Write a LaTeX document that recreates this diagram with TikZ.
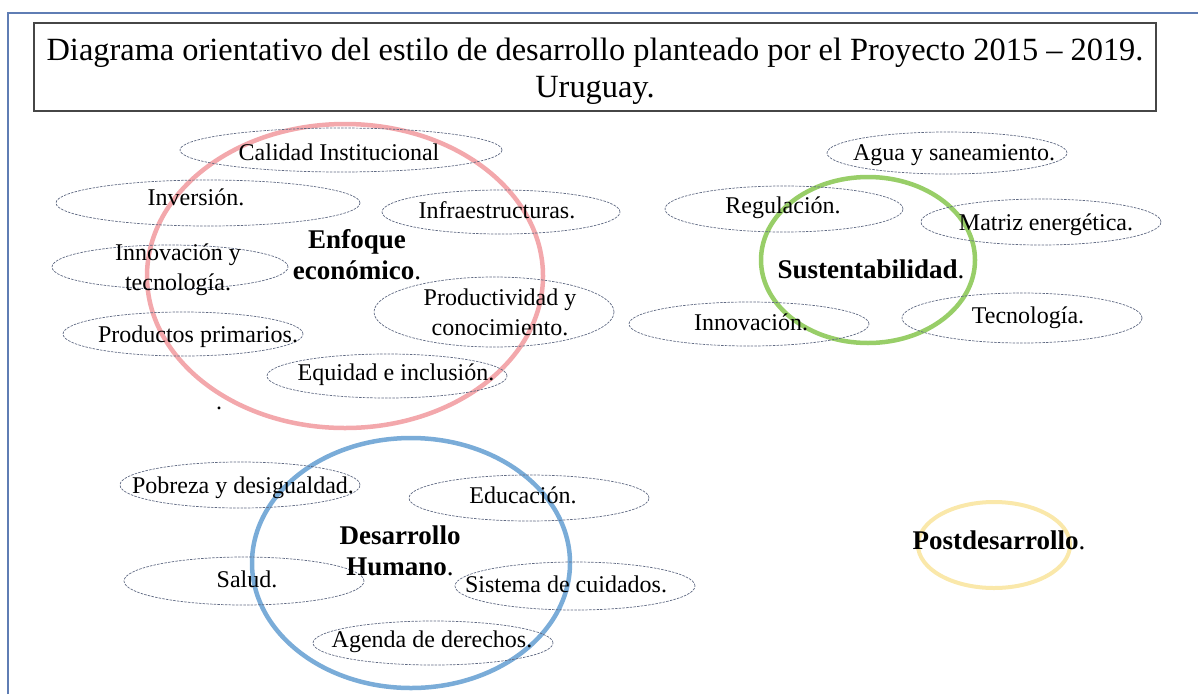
\documentclass[tikz,border=0pt]{standalone}
\usepackage{fontspec}
\setmainfont{Liberation Serif}
\usetikzlibrary{shapes.geometric}

\definecolor{framecol}{RGB}{95,125,180}
\definecolor{boxcol}{RGB}{70,70,70}
\definecolor{bubblecol}{RGB}{95,105,130}
\definecolor{ecored}{RGB}{243,168,172}
\definecolor{humblue}{RGB}{122,172,216}
\definecolor{susgreen}{RGB}{152,206,104}
\definecolor{postyellow}{RGB}{250,232,170}

\begin{document}
\begin{tikzpicture}[x=1pt,y=-1pt,
    bubble/.style={ellipse, draw=bubblecol, line width=0.7pt,
        dash pattern=on 2.5pt off 1.2pt, inner sep=0pt},
    idea/.style={font=\fontsize{24}{30}\selectfont, align=center, inner sep=0pt},
    theme/.style={font=\fontsize{27}{31}\selectfont, align=center, inner sep=0pt},
    ring/.style={line width=4.5pt}]
    \useasboundingbox (0,0) rectangle (1198,694);

    % frame and title
    \coordinate (FB) at (8,694);
    \coordinate (FC) at (8,13);
    \coordinate (FR) at (1198,13);
    \draw[framecol, line width=1.5pt] (FB) -- (FC) -- (FR);
    \draw[boxcol, line width=1.2pt] (34,23) rectangle (1156,111);
    \node[font=\fontsize{32.4}{37}\selectfont, align=center, inner sep=0pt] (title) at (595,71)
        {Diagrama orientativo del estilo de desarrollo planteado por el Proyecto 2015 -- 2019.\\Uruguay.};

    % the four themes
    \draw[ring, ecored] (345,276) ellipse [x radius=198pt, y radius=152pt];
    \draw[ring, susgreen] (868,260) ellipse [x radius=107pt, y radius=83pt];
    \draw[ring, humblue] (411,563) ellipse [x radius=159pt, y radius=125pt];
    \draw[line width=4pt, postyellow] (994,545) ellipse [x radius=76pt, y radius=43pt];

    % dashed bubbles
    \node[bubble, minimum width=322pt, minimum height=44pt] (calidadE) at (341,150) {};
    \node[bubble, minimum width=304pt, minimum height=46pt] (inversionE) at (208,203) {};
    \node[bubble, minimum width=238pt, minimum height=44pt] (infraE) at (501,212) {};
    \node[bubble, minimum width=236pt, minimum height=44pt] (innovtecE) at (170,267) {};
    \node[bubble, minimum width=240pt, minimum height=44pt] (primariosE) at (183,334) {};
    \node[bubble, minimum width=240pt, minimum height=70pt] (productE) at (494,312) {};
    \node[bubble, minimum width=240pt, minimum height=44pt] (equidadE) at (387,376) {};

    \node[bubble, minimum width=240pt, minimum height=42pt] (aguaE) at (947,153) {};
    \node[bubble, minimum width=238pt, minimum height=46pt] (regulE) at (784,209) {};
    \node[bubble, minimum width=240pt, minimum height=46pt] (matrizE) at (1041,222) {};
    \node[bubble, minimum width=240pt, minimum height=44pt] (innovE) at (749,324) {};
    \node[bubble, minimum width=240pt, minimum height=50pt] (tecnoE) at (1022,318) {};

    \node[bubble, minimum width=240pt, minimum height=46pt] (pobrezaE) at (240,485) {};
    \node[bubble, minimum width=240pt, minimum height=46pt] (educE) at (529,498) {};
    \node[bubble, minimum width=240pt, minimum height=48pt] (saludE) at (244,581) {};
    \node[bubble, minimum width=240pt, minimum height=48pt] (cuidadosE) at (575,586) {};
    \node[bubble, minimum width=240pt, minimum height=44pt] (agendaE) at (433,643) {};

    % texts
    \node[idea, anchor=base] (calidad) at (339,160) {Calidad Institucional};
    \node[idea, anchor=base] (inversion) at (196,205) {Inversión.};
    \node[idea, anchor=base] (infra) at (497,218) {Infraestructuras.};
    \node[idea] (innovtec) at (178,270) {Innovación y\\tecnología.};
    \node[idea, anchor=base] (primarios) at (198,342) {Productos primarios.};
    \node[idea] (product) at (500,312) {Productividad y\\conocimiento.};
    \node[idea, anchor=base] (equidad) at (396,380) {Equidad e inclusión.};
    \node[idea, anchor=base] (dot) at (219,409) {.};

    \node[idea, anchor=base] (agua) at (954,160) {Agua y saneamiento.};
    \node[idea, anchor=base] (regul) at (783,213) {Regulación.};
    \node[idea, anchor=base] (matriz) at (1046,230) {Matriz energética.};
    \node[idea, anchor=base] (innov) at (751,330) {Innovación.};
    \node[idea, anchor=base] (tecno) at (1028,323) {Tecnología.};

    \node[idea, anchor=base] (pobreza) at (243,493) {Pobreza y desigualdad.};
    \node[idea, anchor=base] (educ) at (523,503) {Educación.};
    \node[idea, anchor=base] (salud) at (247,587) {Salud.};
    \node[idea, anchor=base] (cuidados) at (566,592) {Sistema de cuidados.};
    \node[idea, anchor=base] (agenda) at (432,647) {Agenda de derechos.};

    \node[theme] (enfoque) at (357,255) {\textbf{Enfoque}\\\textbf{económico}.};
    \node[theme, anchor=base] (sustent) at (871,278) {\textbf{Sustentabilidad}.};
    \node[theme] (humano) at (400,551) {\textbf{Desarrollo}\\\textbf{Humano}.};
    \node[theme, anchor=base] (post) at (999,549) {\textbf{Postdesarrollo}.};
\end{tikzpicture}
\end{document}
